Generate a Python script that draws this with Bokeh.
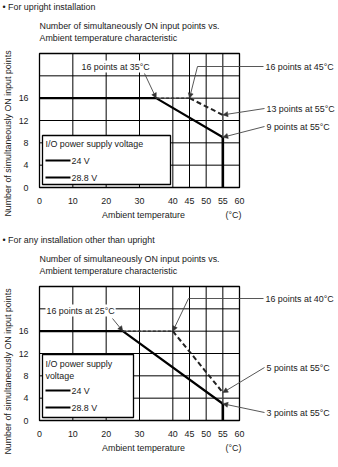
import math
from bokeh.plotting import figure
from bokeh.layouts import column
from bokeh.models import (Range1d, FixedTicker, Label, Arrow, NormalHead,
                          BoxAnnotation, LinearAxis)
from bokeh.embed import file_html
from bokeh.resources import INLINE

# ---------------- data ----------------
x_ticks = [0, 10, 20, 30, 40, 45, 50, 55, 60]
y_ticks = [0, 4, 8, 12, 16, 20]
y_tick_labels = {20: ""}
x_lim = (0, 60)
y_lim = (0, 24)

# upright installation
up_288_t = [0, 35, 55]
up_288_n = [16, 16, 9]
up_24_t = [35, 45, 55]
up_24_n = [16, 16, 13]

# any other installation
ot_288_t = [0, 25, 55]
ot_288_n = [16, 16, 3]
ot_24_t = [25, 40, 55]
ot_24_n = [16, 16, 5]

FONT = "Liberation Sans"
FS = "8.9px"
TC = "#1a1a1a"


def px(x):  # horizontal pixel -> data
    return (x - 39) * 0.3


def py(y):  # vertical local pixel -> data
    return (187 - y) * (24 / 134)


def lab(p, x, y, text, align="left", angle=0, bg=None):
    p.add_layout(Label(x=x, y=y, text=text, text_font=FONT, text_font_size=FS,
                       text_color=TC, text_align=align, text_baseline="middle",
                       angle=angle, background_fill_color=bg,
                       padding=1 if bg else 0))


def leader(p, x0, y0, x1, y1, head=True):
    p.add_layout(Arrow(x_start=x0, y_start=y0, x_end=x1, y_end=y1,
                       line_color="#444444", line_width=0.9,
                       end=NormalHead(size=5, fill_color="#333333",
                                      line_color="#333333", line_width=0.5) if head else None))


def make_chart(height, bullet, t_lo, n_lo, t_hi, n_hi, legend_right, legend_top,
               legend_lines, annotations, ytitle_y):
    p = figure(width=338, height=height,
               x_range=Range1d(px(0), px(338)), y_range=Range1d(py(height), py(0)),
               min_border=0, x_axis_location=None, y_axis_location=None,
               toolbar_location=None, output_backend="svg")
    p.background_fill_color = "white"
    p.border_fill_color = "white"
    p.outline_line_color = None
    p.xgrid.visible = False
    p.ygrid.visible = False

    xa = LinearAxis(fixed_location=y_lim[0], ticker=FixedTicker(ticks=x_ticks))
    ya = LinearAxis(fixed_location=x_lim[0], ticker=FixedTicker(ticks=y_ticks),
                    major_label_overrides=y_tick_labels)
    for ax in (xa, ya):
        ax.axis_line_color = None
        ax.major_tick_line_color = None
        ax.minor_tick_line_color = None
        ax.major_label_text_font = FONT
        ax.major_label_text_font_size = FS
        ax.major_label_text_color = TC
    xa.major_label_standoff = 4
    ya.major_label_standoff = 5
    p.add_layout(xa, "below")
    p.add_layout(ya, "left")

    # grid lines at the tick positions, limited to the plot rectangle
    p.segment(x0=x_ticks, y0=[y_lim[0]] * len(x_ticks), x1=x_ticks, y1=[y_lim[1]] * len(x_ticks),
              line_color="black", line_width=1)
    p.segment(x0=[x_lim[0]] * len(y_ticks), y0=y_ticks, x1=[x_lim[1]] * len(y_ticks), y1=y_ticks,
              line_color="black", line_width=1)
    p.add_layout(BoxAnnotation(left=x_lim[0], right=x_lim[1], bottom=y_lim[0], top=y_lim[1],
                               fill_color=None, line_color="black", line_width=1.3,
                               line_alpha=1, level="underlay"))

    # data lines
    p.line(t_lo, n_lo, line_color="black", line_width=2.2)
    p.line(t_hi[:2], n_hi[:2], line_color="#333333", line_width=1.5, line_dash="3 2")
    p.line(t_hi[1:], n_hi[1:], line_color="#222222", line_width=2, line_dash="5 3")
    p.segment(x0=[t_lo[-1]], y0=[0], x1=[t_lo[-1]], y1=[n_lo[-1]],
              line_color="black", line_width=2.6)
    p.segment(x0=[t_hi[-1]], y0=[n_lo[-1]], x1=[t_hi[-1]], y1=[n_hi[-1]],
              line_color="#555555", line_width=1)

    # legend box
    p.add_layout(BoxAnnotation(left=px(42), right=px(legend_right), top=py(legend_top),
                               bottom=py(184), fill_color="white", fill_alpha=1,
                               line_color="black", line_width=1.3, line_alpha=1))
    for kind, yy, txt in legend_lines:
        if kind == "text":
            lab(p, px(45), py(yy), txt)
        else:
            p.add_layout(Arrow(x_start=px(45), y_start=py(yy), x_end=px(70), y_end=py(yy),
                               line_color="black", line_width=2, end=None))
            lab(p, px(71), py(yy), txt)

    # texts
    lab(p, px(2), py(6), bullet)
    lab(p, px(39), py(25), "Number of simultaneously ON input points vs.")
    lab(p, px(39), py(37), "Ambient temperature characteristic")
    lab(p, px(143), py(214), "Ambient temperature", align="center")
    lab(p, px(233), py(214), "(°C)", align="center")
    lab(p, px(7), py(ytitle_y), "Number of simultaneously ON input points",
        align="center", angle=math.pi / 2)

    for a in annotations:
        a(p)
    return p


# ---------- chart 1 ----------
def ann1(p):
    lab(p, px(80), py(66), "16 points at 35°C", bg="white")
    leader(p, px(144), py(73), up_24_t[0], up_24_n[0])
    lab(p, px(265), py(66), "16 points at 45°C")
    leader(p, px(263), py(66), px(197), py(66), head=False)
    leader(p, px(197), py(66), up_24_t[1], up_24_n[1])
    lab(p, px(266), py(108), "13 points at 55°C")
    leader(p, px(264), py(108), up_24_t[2], up_24_n[2])
    lab(p, px(266), py(126), "9 points at 55°C")
    leader(p, px(264), py(126), up_288_t[2], up_288_n[2])


p1 = make_chart(233, "• For upright installation", up_288_t, up_288_n, up_24_t, up_24_n,
                170, 135,
                [("text", 143, "I/O power supply voltage"), ("line", 160, "24 V"),
                 ("line", 177, "28.8 V")],
                [ann1], 133)


# ---------- chart 2 ----------
def ann2(p):
    lab(p, px(45), py(77), "16 points at 25°C", bg="white")
    leader(p, px(112), py(85), ot_24_t[0], ot_24_n[0])
    lab(p, px(265), py(65), "16 points at 40°C")
    leader(p, px(263), py(65), px(188), py(65), head=False)
    leader(p, px(188), py(65), ot_24_t[1], ot_24_n[1])
    lab(p, px(266), py(134), "5 points at 55°C")
    leader(p, px(264), py(134), ot_24_t[2], ot_24_n[2])
    lab(p, px(266), py(179), "3 points at 55°C")
    leader(p, px(264), py(179), ot_288_t[2], ot_288_n[2])


p2 = make_chart(234, "• For any installation other than upright", ot_288_t, ot_288_n,
                ot_24_t, ot_24_n, 133, 121,
                [("text", 130, "I/O power supply"), ("text", 142, "voltage"),
                 ("line", 157, "24 V"), ("line", 174, "28.8 V")],
                [ann2], 138)

layout = column(p1, p2, spacing=0)
open("out.html", "w").write(file_html(layout, INLINE))
